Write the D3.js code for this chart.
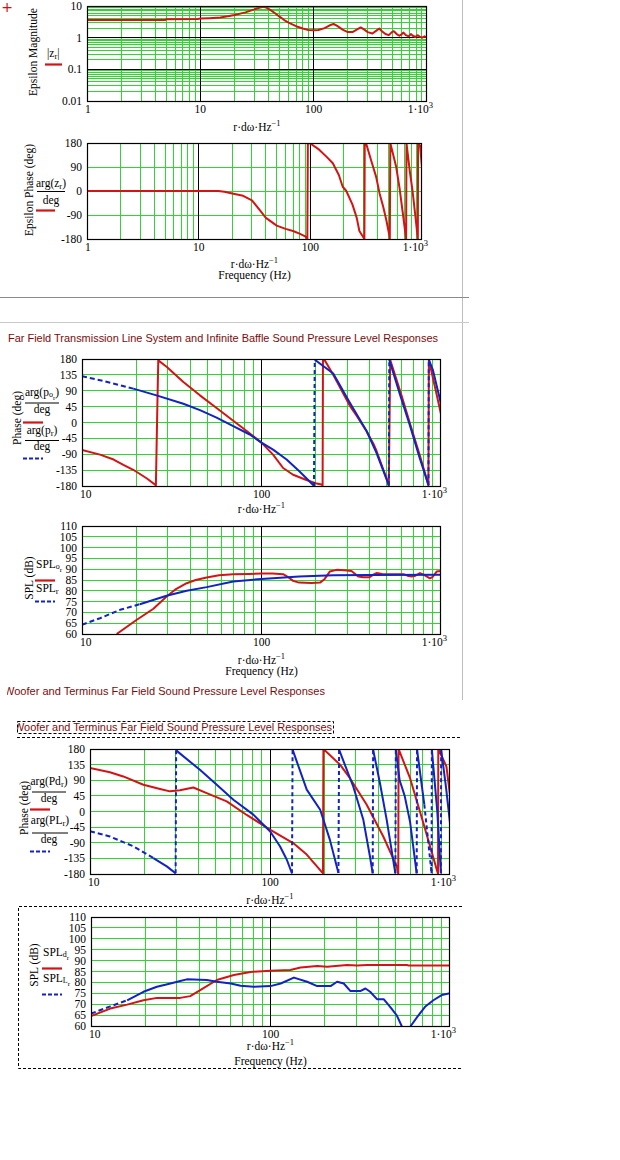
<!DOCTYPE html>
<html>
<head>
<meta charset="utf-8">
<script src="https://cdn.jsdelivr.net/npm/d3@7/dist/d3.min.js"></script>
<style>
  body { margin: 0; background: #fff; }
  svg text { font-family: "Liberation Serif", "Times New Roman", serif; font-size: 11.5px; fill: #000; }
  svg text.title { font-family: "Liberation Sans", Arial, sans-serif; font-size: 10.5px; fill: #7a0c0c; }
</style>
</head>
<body>
<svg id="page" width="620" height="1160"></svg>
<script>
// ---- data ----
const magFreq = [1, 4.9, 5, 9.5, 10, 12, 15, 18, 20, 25, 30, 33, 36, 38, 42, 46, 50, 55, 60, 70, 80, 90, 100, 110, 125, 140, 150, 160, 180, 200, 220, 240, 260, 280, 300, 330, 360, 380, 400, 430, 460, 490, 510, 540, 570, 600, 620, 650, 690, 720, 750, 790, 830, 870, 910, 950, 1000];
const magVals = [3.6, 3.6, 3.8, 3.9, 4.0, 4.1, 4.3, 4.8, 5.2, 6.3, 7.8, 8.8, 9.4, 9.0, 7.3, 5.8, 4.6, 3.6, 3.0, 2.3, 1.95, 1.75, 1.7, 1.75, 2.0, 2.5, 2.7, 2.4, 1.8, 1.5, 1.5, 1.8, 2.1, 1.8, 1.5, 1.35, 1.7, 1.95, 1.6, 1.3, 1.2, 1.5, 1.6, 1.3, 1.15, 1.3, 1.45, 1.2, 1.1, 1.3, 1.15, 1.05, 1.2, 1.05, 1.0, 1.1, 1.0];

const epsPhaseFreq = [1, 15, 17, 20, 25, 30, 35, 40, 50, 60, 70, 80, 90, 94, 95, 100, 120, 140, 159, 180, 195, 210, 238, 260, 275, 300, 305, 307, 316, 350, 388, 417, 450, 479, 512, 515, 520, 587, 630, 673, 721, 726, 780, 823, 870, 918, 922, 960, 1000];
const epsPhaseVals = [0, 0, -3, -9, -18, -35, -70, -101, -130, -142, -150, -160, -170, -178, 180, 178, 155, 128, 104, 60, 16, 0, -50, -100, -150, -175, -180, 180, 178, 115, 54, -9, -60, -109, -170, -180, 180, 91, 10, -83, -180, 180, 70, 0, -90, -180, 180, 170, 90];

const poPhaseFreq = [10, 12.6, 15, 17, 19.3, 22.9, 25.8, 26.1, 26.3, 26.6, 29.6, 36.7, 45.4, 56.2, 69.6, 82.7, 100, 116, 132, 150, 178, 200, 216, 219, 220, 226, 251, 310, 338, 385, 420, 437, 507, 512, 521, 600, 671, 764, 851, 856, 880, 1000];
const poPhaseVals = [-78, -91, -105, -120, -134, -158, -178, -40, 50, 176, 158, 115, 77, 41, 5, -24, -57, -91, -129, -148, -163, -172, -176, -178, 178, 175, 135, 48, 20, -25, -60, -80, -170, -180, 178, 80, -2, -95, -178, 178, 150, 24];
const prPhaseFreq = [10, 12.6, 19.3, 26, 36.7, 45.4, 56.2, 69.6, 86, 100, 116, 138, 163, 194, 196, 198, 251, 310, 385, 437, 507, 512, 515, 590, 671, 760, 845, 851, 855, 900, 1000];
const prPhaseVals = [131, 120, 96, 77, 53, 35, 14, -10, -34, -57, -77, -105, -139, -177, -180, 178, 139, 57, -24, -86, -172, -178, 178, 80, -8, -100, -172, -178, 178, 150, 53];

const splOFreq = [15.6, 20.2, 25, 29.6, 33, 38.3, 43, 49.5, 58, 69.6, 85, 100, 115, 132, 140, 150, 162, 190, 212, 225, 240, 262, 290, 317, 330, 346, 370, 400, 420, 437, 470, 498, 560, 617, 650, 687, 720, 764, 800, 840, 868, 900, 946, 1000];
const splOVals = [60, 66.6, 71.7, 77.4, 80.5, 83.5, 85, 86.2, 87.2, 87.7, 87.8, 88, 88, 87.7, 86.5, 84.6, 83.8, 83.6, 83.8, 85.5, 88.9, 89.7, 89.5, 89.2, 88, 86.6, 86.3, 86.3, 87.5, 88.2, 87.8, 87.7, 87.7, 87.7, 87, 86.6, 87, 88.2, 87.5, 86.5, 85.8, 86.5, 88.9, 89.2];
const splRFreq = [10, 12.6, 16.3, 21, 29.6, 38.3, 49.5, 69.6, 100, 162, 251, 400, 1000];
const splRVals = [64.3, 67.3, 71.2, 73.8, 77.7, 80, 81.7, 84.3, 85.5, 86.6, 87.2, 87.3, 87.4];

const pdPhaseFreq = [10, 12.9, 15.3, 19.8, 24.5, 27.8, 31.6, 37.5, 44.5, 57.5, 74.2, 100, 134.5, 160, 197, 198, 245, 278, 344, 426, 506, 516, 518, 600, 711, 844, 858, 861, 955, 1000];
const pdPhaseVals = [125, 113, 101, 77, 65, 58, 61, 69, 53, 29, -10, -52, -91, -124, -178, 180, 135, 96, 20, -72, -158, -180, 180, 96, -33, -167, -180, 180, 130, 48];
const plPhaseFreq = [10, 12.9, 17.4, 22.5, 26.7, 29.9, 30.1, 40.8, 50.6, 62.6, 80.8, 100, 113.6, 124, 132.5, 133.5, 160, 190, 215, 240, 242, 290, 330, 359, 372, 374, 408, 445, 497, 500, 525, 560, 600, 653, 656, 720, 790, 793, 850, 890, 893, 950, 1000];
const plPhaseVals = [-57, -72, -100, -134, -158, -178, 176, 120, 77, 34, -9, -57, -100, -139, -178, 178, 63, 5, -81, -177, 178, 72, -24, -129, -178, 178, 82, -24, -178, 178, 90, 45, -30, -178, 178, 20, -178, 178, 0, -178, 178, 70, -33];

const splDFreq = [10, 12.8, 15.9, 19.6, 23.3, 31.4, 35.7, 40.6, 50.2, 62.5, 77.4, 100, 129, 147, 182, 207, 267, 304, 345, 576, 589, 1000];
const splDVals = [64.6, 68, 69.8, 71.8, 72.9, 72.9, 73.7, 76.5, 81.1, 83.4, 84.8, 85.4, 85.7, 86.8, 87.5, 87.2, 88, 87.7, 88, 88, 87.7, 87.7];
const splLFreq = [10, 12.8, 15.9, 19.6, 23.3, 27.7, 31.4, 34.2, 44.2, 50.2, 60.1, 68.1, 80.8, 100, 114, 135, 160, 182, 216, 235, 256, 279, 316, 338, 359, 392, 427, 464, 505, 538, 560, 590, 604, 667, 726, 808, 899, 1000];
const splLVals = [65.7, 69, 71.8, 75.7, 78, 79.5, 80.6, 81.4, 81.1, 80.3, 79.5, 78.5, 78, 78.3, 79.5, 82.2, 80.3, 78.3, 78.3, 80.3, 79.5, 76, 76, 77.2, 75.7, 72.3, 72.3, 68.8, 64.9, 60, 58, 58, 60, 64.9, 68.8, 71.8, 74.2, 75];

const magTicks = [10, 1, 0.1, 0.01];
const phaseTicks90 = [180, 90, 0, -90, -180];
const phaseTicks45 = [180, 135, 90, 45, 0, -45, -90, -135, -180];
const splTicks = [110, 105, 100, 95, 90, 85, 80, 75, 70, 65, 60];
const freqTicks1 = [1, 10, 100, 1000];
const freqTicks10 = [10, 100, 1000];

const titleTL = 'Far Field Transmission Line System and Infinite Baffle Sound Pressure Level Responses';
const titleWT = 'Woofer and Terminus Far Field Sound Pressure Level Responses';

const GRID = '#2fd62f', RED = '#d41414', BLUE = '#1222c4';
const svg = d3.select('#page');

// rich text helper: parts = [[text, size, dy], ...]
function rich(g, x, y, parts, anchor) {
  const t = g.append('text').attr('x', x).attr('y', y).attr('text-anchor', anchor || 'start');
  parts.forEach(([s, size, dy]) => {
    const sp = t.append('tspan').text(s);
    if (size) sp.style('font-size', size + 'px');
    if (dy) sp.attr('dy', dy);
  });
  return t;
}

class MathcadPlot {
  constructor(_config) {
    this.config = _config;
    this.initVis();
  }

  initVis() {
    let vis = this;
    const c = vis.config;
    vis.g = svg.append('g');
    vis.x = d3.scaleLog().domain(c.xDomain).range([c.left, c.right]);
    vis.y = (c.yLog ? d3.scaleLog() : d3.scaleLinear()).domain(c.yDomain).range([c.bottom, c.top]);
    vis.renderVis();
  }

  renderVis() {
    let vis = this;
    const c = vis.config, x = vis.x, y = vis.y, g = vis.g;
    const isDecade = v => Math.abs(Math.log10(v) - Math.round(Math.log10(v))) < 1e-9;

    const xg = x.ticks().filter(t => t > c.xDomain[0] * 1.0001 && t < c.xDomain[1] * 0.9999);
    const yg = (c.yLog ? y.ticks() : c.yTicks).filter(t => t > c.yDomain[0] && t < c.yDomain[1]);
    const grid = g.append('g').attr('shape-rendering', 'crispEdges');

    grid.selectAll('.gx').data(xg.filter(t => !isDecade(t))).enter().append('line')
      .attr('x1', d => x(d)).attr('x2', d => x(d)).attr('y1', c.top).attr('y2', c.bottom)
      .attr('stroke', GRID);
    grid.selectAll('.gy').data(yg.filter(t => !(c.yLog && isDecade(t)))).enter().append('line')
      .attr('y1', d => y(d)).attr('y2', d => y(d)).attr('x1', c.left).attr('x2', c.right)
      .attr('stroke', GRID);
    grid.selectAll('.mx').data(xg.filter(isDecade)).enter().append('line')
      .attr('x1', d => x(d)).attr('x2', d => x(d)).attr('y1', c.top).attr('y2', c.bottom)
      .attr('stroke', '#000');
    if (c.yLog) {
      grid.selectAll('.my').data(yg.filter(isDecade)).enter().append('line')
        .attr('y1', d => y(d)).attr('y2', d => y(d)).attr('x1', c.left).attr('x2', c.right)
        .attr('stroke', '#000');
    }

    // traces, clipped to the plot box
    g.append('clipPath').attr('id', c.id).append('rect')
      .attr('x', c.left).attr('y', c.top).attr('width', c.right - c.left).attr('height', c.bottom - c.top);
    const plot = g.append('g').attr('clip-path', `url(#${c.id})`);
    const line = d3.line().x(d => x(d[0])).y(d => y(d[1]));
    const stroke = (sel, color, dashed) => sel.attr('fill', 'none').attr('stroke', color)
      .attr('stroke-width', 2).attr('stroke-linejoin', 'round')
      .attr('stroke-dasharray', dashed ? dashed : null);

    c.series.forEach(s => {
      const pts = s.f.map((f, i) => [f, s.v[i]]);
      // sparse low-frequency start of a dashed trace shows as dashes
      let start = 0;
      if (s.dashBelow) {
        while (start < pts.length - 1 && pts[start + 1][0] <= s.dashBelow) start++;
        if (start > 0) stroke(plot.append('path').attr('d', line(pts.slice(0, start + 1))), s.color, '5,3');
      }
      const runs = [[pts[start]]], jumps = [];
      for (let i = start + 1; i < pts.length; i++) {
        if (s.dashJumps && Math.abs(pts[i][1] - pts[i - 1][1]) > 180) {
          jumps.push([pts[i - 1], pts[i]]);
          runs.push([pts[i]]);
        } else runs[runs.length - 1].push(pts[i]);
      }
      runs.forEach(r => stroke(plot.append('path').attr('d', line(r)), s.color));
      jumps.forEach(j => stroke(plot.append('path').attr('d', line(j)), s.color, '4,3'));
    });

    g.append('rect').attr('x', c.left + 0.5).attr('y', c.top + 0.5)
      .attr('width', c.right - c.left - 1).attr('height', c.bottom - c.top)
      .attr('fill', 'none').attr('stroke', '#000').attr('stroke-width', 1.2);

    // y tick labels
    g.selectAll('.yl').data(c.yTicks).enter().append('text')
      .attr('x', c.left - 5).attr('y', d => y(d) + 4).attr('text-anchor', 'end')
      .text(d => String(d));

    // x tick labels
    c.xTicks.forEach((t, i) => {
      const ty = c.bottom + 12;
      if (t === 1000) {
        rich(g, c.right + 6, ty, [['1\u00b710'], ['3', 8.5, -5]], 'end');
      } else if (i === 0) {
        g.append('text').attr('x', x(t) - 2).attr('y', ty).text(String(t));
      } else {
        g.append('text').attr('x', x(t)).attr('y', ty).attr('text-anchor', 'middle').text(String(t));
      }
    });

    // axis titles
    const cx = (c.left + c.right) / 2;
    rich(g, cx, c.xLabelY, [['r\u00b7d\u03c9\u00b7Hz'], ['\u22121', 8.5, -5]], 'middle');
    if (c.freqLabelY) {
      g.append('text').attr('x', cx).attr('y', c.freqLabelY).attr('text-anchor', 'middle').text('Frequency (Hz)');
    }

    g.append('text').attr('transform', `translate(${c.yLabel.x},${c.yLabel.y}) rotate(-90)`)
      .attr('text-anchor', 'middle').text(c.yLabel.text);

    c.legend(g);
  }
}

function legLine(g, x1, x2, y, color, dashed) {
  g.append('line').attr('x1', x1).attr('x2', x2).attr('y1', y).attr('y2', y)
    .attr('stroke', color).attr('stroke-width', 2.2).attr('stroke-dasharray', dashed ? '4,2' : null);
}
function fracBar(g, x1, x2, y) {
  g.append('line').attr('x1', x1).attr('x2', x2).attr('y1', y).attr('y2', y)
    .attr('stroke', '#000').attr('stroke-width', 1);
}

// ---- page furniture ----
svg.append('text').attr('x', 7).attr('y', 12).attr('text-anchor', 'middle')
  .style('font-size', '14px').style('fill', '#d01010').style('font-family', 'DejaVu Sans, sans-serif').text('+');
svg.append('line').attr('x1', 462.5).attr('x2', 462.5).attr('y1', 0).attr('y2', 700).attr('stroke', '#bdbdbd');
svg.append('line').attr('x1', 0).attr('x2', 469).attr('y1', 297.5).attr('y2', 297.5).attr('stroke', '#8a8a8a');
svg.append('line').attr('x1', 0).attr('x2', 469).attr('y1', 322.5).attr('y2', 322.5).attr('stroke', '#c8c8c8');

svg.append('text').attr('class', 'title').attr('x', 8).attr('y', 342)
  .attr('textLength', 430).attr('lengthAdjust', 'spacingAndGlyphs').text(titleTL);

svg.append('clipPath').attr('id', 'clipT4').append('rect').attr('x', 7).attr('y', 680).attr('width', 400).attr('height', 20);
svg.append('text').attr('class', 'title').attr('x', 4).attr('y', 695).attr('clip-path', 'url(#clipT4)')
  .attr('textLength', 321).attr('lengthAdjust', 'spacingAndGlyphs').text(titleWT);

svg.append('clipPath').attr('id', 'clipT5').append('rect').attr('x', 17).attr('y', 715).attr('width', 400).attr('height', 20);
svg.append('text').attr('class', 'title').attr('x', 14).attr('y', 731).attr('clip-path', 'url(#clipT5)')
  .attr('textLength', 318).attr('lengthAdjust', 'spacingAndGlyphs').text(titleWT);

const dash = sel => sel.attr('stroke', '#000').attr('stroke-width', 1).attr('stroke-dasharray', '3,2').attr('fill', 'none');
dash(svg.append('rect').attr('x', 17.5).attr('y', 721.5).attr('width', 316).attr('height', 12));
dash(svg.append('line').attr('x1', 17).attr('x2', 462).attr('y1', 737.5).attr('y2', 737.5));
dash(svg.append('path').attr('d', 'M462,906.5 H18.5 V1068.5 H462'));

// ---- panels ----
new MathcadPlot({
  id: 'c1', left: 87, right: 427, top: 6, bottom: 101,
  xDomain: [1, 1000], yDomain: [0.01, 10], yLog: true,
  yTicks: magTicks, xTicks: freqTicks1, xLabelY: 131,
  yLabel: { text: 'Epsilon Magnitude', x: 37, y: 52 },
  series: [{ f: magFreq, v: magVals, color: RED }],
  legend: g => {
    rich(g, 47, 57, [['|z'], ['r', 8.5, 2], ['|', null, -2]]);
    legLine(g, 45, 62, 64.5, RED);
  }
});

new MathcadPlot({
  id: 'c2', left: 87, right: 422, top: 143, bottom: 239,
  xDomain: [1, 1000], yDomain: [-180, 180],
  yTicks: phaseTicks90, xTicks: freqTicks1, xLabelY: 268, freqLabelY: 279,
  yLabel: { text: 'Epsilon Phase (deg)', x: 33, y: 190 },
  series: [{ f: epsPhaseFreq, v: epsPhaseVals, color: RED }],
  legend: g => {
    rich(g, 51, 187, [['arg(z'], ['r', 8.5, 2], [')', null, -2]], 'middle');
    fracBar(g, 37, 65, 191.5);
    g.append('text').attr('x', 51).attr('y', 204).attr('text-anchor', 'middle').text('deg');
    legLine(g, 36, 55, 210.5, RED);
  }
});

new MathcadPlot({
  id: 'c3', left: 82, right: 441, top: 359, bottom: 486,
  xDomain: [10, 1000], yDomain: [-180, 180],
  yTicks: phaseTicks45, xTicks: freqTicks10, xLabelY: 513,
  yLabel: { text: 'Phase (deg)', x: 21, y: 418 },
  series: [
    { f: poPhaseFreq, v: poPhaseVals, color: RED },
    { f: prPhaseFreq, v: prPhaseVals, color: BLUE, dashJumps: true, dashBelow: 20 }
  ],
  legend: g => {
    rich(g, 42, 396, [['arg(p'], ['o', 8, 1], ['r', 7, 3], [')', null, -4]], 'middle');
    fracBar(g, 25, 59, 403);
    g.append('text').attr('x', 42).attr('y', 413).attr('text-anchor', 'middle').text('deg');
    legLine(g, 23, 43, 422.5, RED);
    rich(g, 42, 434, [['arg(p'], ['r', 8.5, 2], [')', null, -2]], 'middle');
    fracBar(g, 25, 59, 440.5);
    g.append('text').attr('x', 42).attr('y', 450).attr('text-anchor', 'middle').text('deg');
    legLine(g, 23, 43, 458.5, BLUE, true);
  }
});

new MathcadPlot({
  id: 'c4', left: 82, right: 441, top: 526, bottom: 634,
  xDomain: [10, 1000], yDomain: [60, 110],
  yTicks: splTicks, xTicks: freqTicks10, xLabelY: 664, freqLabelY: 675,
  yLabel: { text: 'SPL (dB)', x: 33, y: 578 },
  series: [
    { f: splOFreq, v: splOVals, color: RED },
    { f: splRFreq, v: splRVals, color: BLUE, dashBelow: 22 }
  ],
  legend: g => {
    rich(g, 36, 568, [['SPL'], ['o', 8, 1], ['r', 7, 3]]);
    legLine(g, 35, 55, 580.5, RED);
    rich(g, 36, 592, [['SPL'], ['r', 8.5, 2]]);
    legLine(g, 35, 55, 601.5, BLUE, true);
  }
});

new MathcadPlot({
  id: 'c5', left: 90, right: 450, top: 749, bottom: 874,
  xDomain: [10, 1000], yDomain: [-180, 180],
  yTicks: phaseTicks45, xTicks: freqTicks10, xLabelY: 904,
  yLabel: { text: 'Phase (deg)', x: 28, y: 808 },
  series: [
    { f: pdPhaseFreq, v: pdPhaseVals, color: RED },
    { f: plPhaseFreq, v: plPhaseVals, color: BLUE, dashJumps: true, dashBelow: 23 }
  ],
  legend: g => {
    rich(g, 49, 785, [['arg(Pd'], ['r', 8.5, 2], [')', null, -2]], 'middle');
    fracBar(g, 32, 66, 792);
    g.append('text').attr('x', 49).attr('y', 802).attr('text-anchor', 'middle').text('deg');
    legLine(g, 30, 50, 809.5, RED);
    rich(g, 50, 824, [['arg(PL'], ['r', 8.5, 2], [')', null, -2]], 'middle');
    fracBar(g, 32, 68, 833);
    g.append('text').attr('x', 49).attr('y', 843).attr('text-anchor', 'middle').text('deg');
    legLine(g, 30, 50, 851.5, BLUE, true);
  }
});

new MathcadPlot({
  id: 'c6', left: 91, right: 450, top: 917, bottom: 1026,
  xDomain: [10, 1000], yDomain: [60, 110],
  yTicks: splTicks, xTicks: freqTicks10, xLabelY: 1050, freqLabelY: 1065,
  yLabel: { text: 'SPL (dB)', x: 38, y: 965 },
  series: [
    { f: splDFreq, v: splDVals, color: RED },
    { f: splLFreq, v: splLVals, color: BLUE, dashBelow: 16 }
  ],
  legend: g => {
    rich(g, 43, 956, [['SPL'], ['d', 8, 1], ['r', 7, 3]]);
    legLine(g, 42, 62, 968.5, RED);
    rich(g, 43, 982, [['SPL'], ['L', 8, 1], ['r', 7, 3]]);
    legLine(g, 42, 62, 994.5, BLUE, true);
  }
});
</script>
</body>
</html>
